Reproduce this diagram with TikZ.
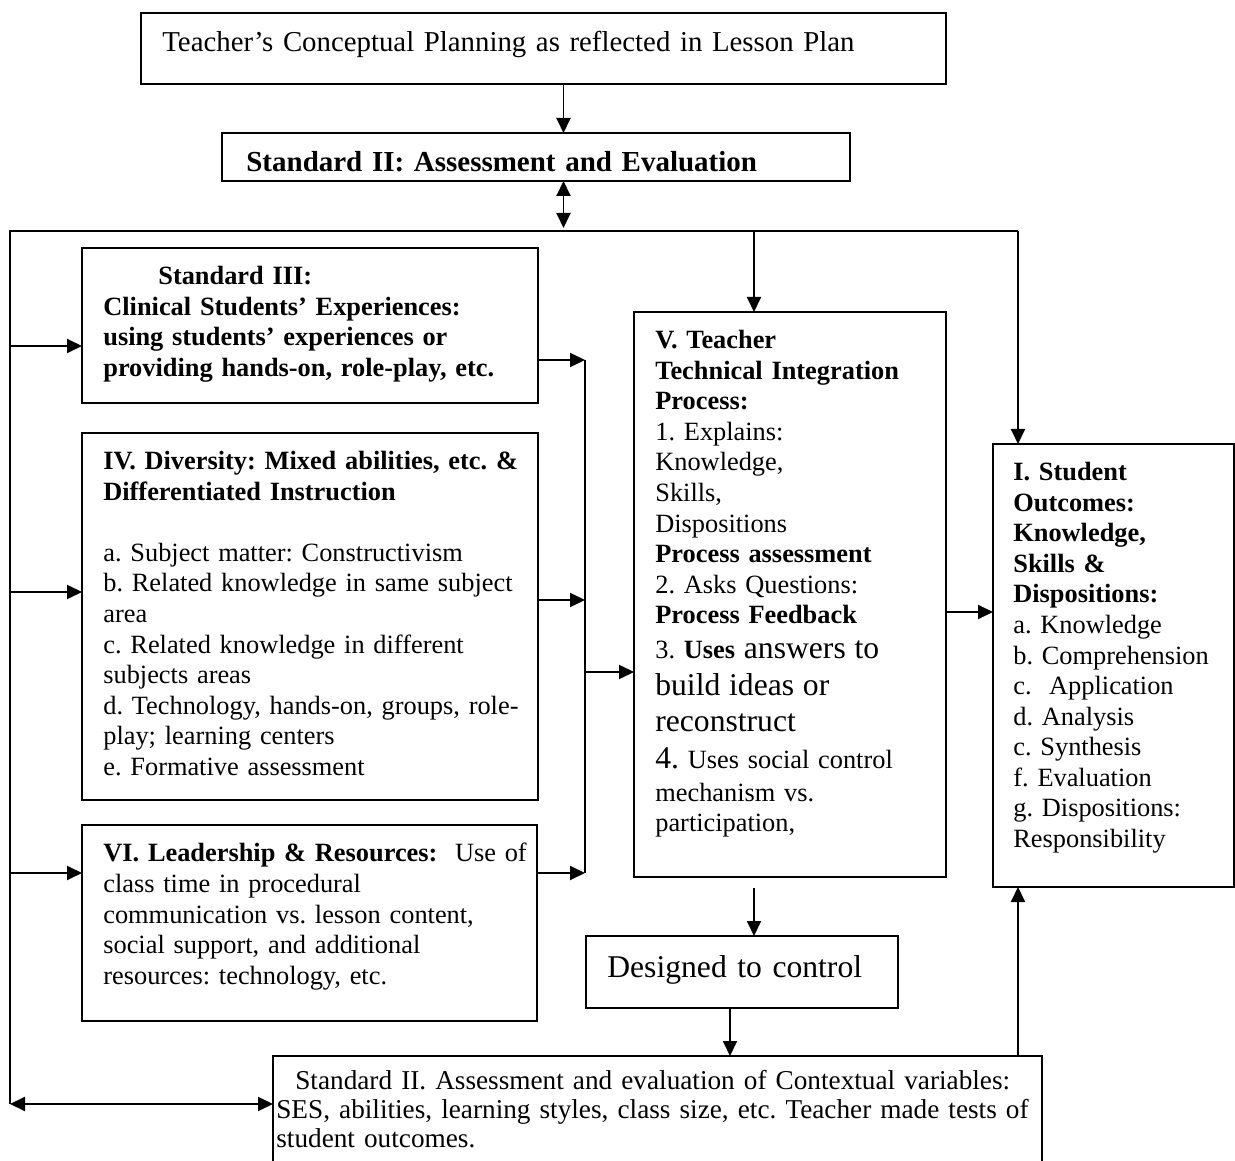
\documentclass[tikz,border=0pt]{standalone}
\usepackage{fontspec}
\setmainfont{Liberation Serif}
\usetikzlibrary{arrows.meta,positioning,calc}

\newcommand{\bigsz}{\fontsize{18}{21}\selectfont}

\begin{document}
\frenchspacing
\begin{tikzpicture}[
    font=\fontsize{15}{17.4}\selectfont,
    box/.style={rectangle, draw, line width=1.1pt, anchor=north west, inner sep=0pt, outer sep=0pt},
    txt/.style={anchor=north west, inner sep=0pt, align=left, text width=#1},
    txt/.default=9cm,
    arrow/.style={-{Triangle[length=0.3cm,width=0.28cm]}, line width=1.1pt},
    twoway/.style={{Triangle[length=0.3cm,width=0.28cm]}-{Triangle[length=0.3cm,width=0.28cm]}, line width=1.1pt},
    line/.style={line width=1.1pt}
]
\useasboundingbox (0,0) rectangle (24.7,-23.22);

% boxes
\node[box, minimum width=16.10cm, minimum height=1.42cm] (plan) at (2.82,-0.26) {};
\node[box, minimum width=12.56cm, minimum height=0.96cm] (std2) at (4.44,-2.66) {};
\node[box, minimum width=9.12cm, minimum height=3.10cm] (std3) at (1.64,-4.96) {};
\node[box, minimum width=9.12cm, minimum height=7.34cm] (div4) at (1.64,-8.66) {};
\node[box, minimum width=9.10cm, minimum height=3.92cm] (lead6) at (1.64,-16.50) {};
\node[box, minimum width=6.24cm, minimum height=11.30cm] (tech5) at (12.68,-6.24) {};
\node[box, minimum width=4.82cm, minimum height=8.86cm] (out1) at (19.86,-8.88) {};
\node[box, minimum width=6.24cm, minimum height=1.44cm] (ctrl) at (11.72,-18.72) {};
\node[box, minimum width=15.38cm, minimum height=2.30cm] (ctx) at (5.46,-21.12) {};

% texts
\node[txt=15.5cm, font=\fontsize{16.4}{19}\selectfont, below right=0.36cm and 0.42cm of plan.north west] (plant)
  {Teacher's Conceptual Planning as reflected in Lesson Plan};
\node[txt=12cm, font=\fontsize{16.5}{19}\selectfont, below right=0.36cm and 0.48cm of std2.north west] (std2t)
  {\bfseries Standard II: Assessment and Evaluation};
\node[txt, below right=0.36cm and 0.42cm of std3.north west] (std3t)
  {\bfseries \hspace*{1.1cm}Standard III:\\
   Clinical Students' Experiences:\\
   using students' experiences or\\
   providing hands-on, role-play, etc.};
\node[txt, below right=0.36cm and 0.42cm of div4.north west] (div4t)
  {\textbf{IV. Diversity: Mixed abilities, etc. \&}\\
   \textbf{Differentiated Instruction}\\[17.4pt]
   a. Subject matter: Constructivism\\
   b. Related knowledge in same subject\\
   area\\
   c. Related knowledge in different\\
   subjects areas\\
   d. Technology, hands-on, groups, role-\\
   play; learning centers\\
   e. Formative assessment};
\node[txt, below right=0.36cm and 0.42cm of lead6.north west] (lead6t)
  {\textbf{VI. Leadership \& Resources:}\ \ Use of\\
   class time in procedural\\
   communication vs. lesson content,\\
   social support, and additional\\
   resources: technology, etc.};
\node[txt=6cm, below right=0.36cm and 0.42cm of tech5.north west] (tech5t)
  {\textbf{V. Teacher}\\
   \textbf{Technical Integration}\\
   \textbf{Process:}\\
   1. Explains:\\
   Knowledge,\\
   Skills,\\
   Dispositions\\
   \textbf{Process assessment}\\
   2. Asks Questions:\\
   \textbf{Process Feedback}\\[2.4pt]
   3. \textbf{Uses} {\bigsz answers to}\\[3.6pt]
   {\bigsz build ideas or}\\[3pt]
   {\bigsz reconstruct}\\[3.6pt]
   {\bigsz 4.} Uses social control\\[1.3pt]
   mechanism vs.\\
   participation,};
\node[txt=4.5cm, below right=0.36cm and 0.40cm of out1.north west] (out1t)
  {\textbf{I. Student}\\
   \textbf{Outcomes:}\\
   \textbf{Knowledge,}\\
   \textbf{Skills \&}\\
   \textbf{Dispositions:}\\
   a. Knowledge\\
   b. Comprehension\\
   c.\ \ Application\\
   d. Analysis\\
   c. Synthesis\\
   f. Evaluation\\
   g. Dispositions:\\
   Responsibility};
\node[txt=6cm, font=\bigsz, below right=0.38cm and 0.42cm of ctrl.north west] (ctrlt)
  {Designed to control};
\node[txt=15.2cm, font=\fontsize{15.5}{16.5}\selectfont, below right=0.28cm and 0.06cm of ctx.north west] (ctxt)
  {\hspace*{0.38cm}Standard II. Assessment and evaluation of Contextual variables:\\
   SES, abilities, learning styles, class size, etc. Teacher made tests of\\
   student outcomes.};

% connectors
\coordinate (busL) at (0.2,-4.62);
\coordinate (busR) at (20.36,-4.62);
\coordinate (busB) at (0.2,-22.08);
\coordinate (trunk) at (11.27,-4.62);
\coordinate (vtop) at (15.08,-4.62);
\coordinate (colT) at (11.70,-7.20);
\coordinate (colB) at (11.70,-17.46);

\draw[arrow] (plan.south -| trunk) -- (std2.north -| trunk);
\draw[twoway] (std2.south -| trunk) -- ([yshift=0.06cm]trunk);
\draw[line] (busB) -- (busL) -- (busR);
\draw[arrow] (busR) -- (busR |- out1.north);
\draw[arrow] (vtop) -- (vtop |- tech5.north);
\draw[arrow] ([yshift=-0.41cm]std3.west -| busL) -- ([yshift=-0.41cm]std3.west);
\draw[arrow] ([yshift=0.49cm]div4.west -| busL) -- ([yshift=0.49cm]div4.west);
\draw[arrow] ([yshift=1.0cm]lead6.west -| busL) -- ([yshift=1.0cm]lead6.west);
\draw[twoway] (busB) -- (busB -| ctx.west);

\draw[arrow] (std3.east |- colT) -- (colT);
\draw[arrow] ([yshift=0.33cm]div4.east) -- ([yshift=0.33cm]div4.east -| colT);
\draw[arrow] (lead6.east |- colB) -- (colB);
\draw[line] (colT) -- (colB);
\draw[arrow] ([yshift=-1.55cm]tech5.west -| colT) -- ([yshift=-1.55cm]tech5.west);

\draw[arrow] ([yshift=-0.35cm]tech5.east) -- ([yshift=-0.35cm]tech5.east -| out1.west);
\draw[arrow] ([yshift=-0.22cm]tech5.south -| vtop) -- (ctrl.north -| vtop);
\draw[arrow] ([xshift=-0.24cm]ctrl.south) -- ([xshift=-0.24cm]ctrl.south |- ctx.north);
\draw[arrow] (busR |- ctx.north) -- (busR |- out1.south);

\end{tikzpicture}
\end{document}
